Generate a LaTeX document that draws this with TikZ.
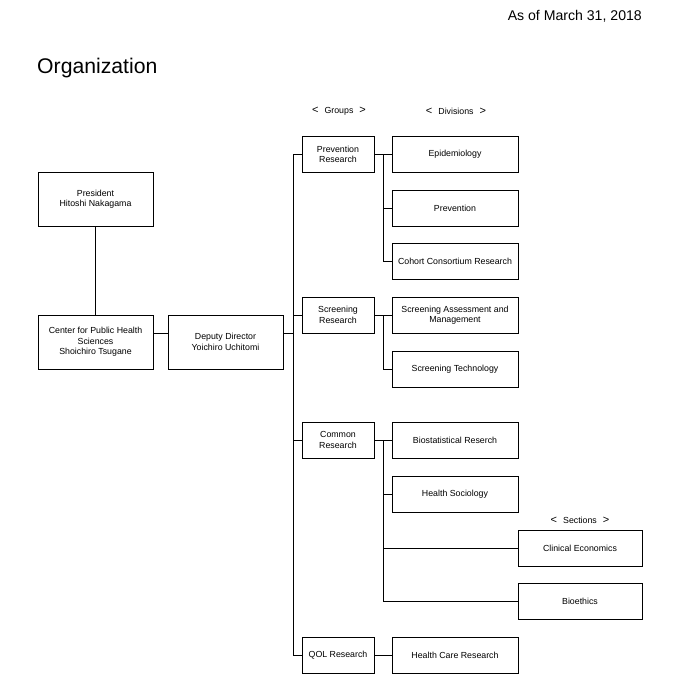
\documentclass[tikz,border=0pt]{standalone}
\usepackage{fontspec}
\setmainfont{Liberation Sans}
\newcommand{\lbr}{{\fontsize{11}{11}\selectfont<}}
\newcommand{\rbr}{{\fontsize{11}{11}\selectfont>}}
\begin{document}
\begin{tikzpicture}[x=1pt,y=-1pt,
  box/.style={draw,line width=1pt,inner sep=1pt,align=center,
    font=\fontsize{8.8}{10.5}\selectfont},
  top/.style={box,minimum width=115pt,minimum height=54pt},
  grp/.style={box,minimum width=72pt,minimum height=36pt},
  div/.style={box,minimum width=126pt,minimum height=36pt},
  sec/.style={box,minimum width=124pt,minimum height=36pt},
  lbl/.style={font=\fontsize{8.8}{10.5}\selectfont,inner sep=0pt},
  conn/.style={line width=1pt}]
\useasboundingbox (0,0) rectangle (680,696);
\fill[white] (0,0) rectangle (680,696);
% headings
\node[anchor=base east,inner sep=0pt,font=\fontsize{14.1}{16}\selectfont] (asof) at (642,20) {As of March 31, 2018};
\node[anchor=base west,inner sep=0pt,font=\fontsize{21.2}{24}\selectfont] (title) at (37,73) {Organization};
\node[lbl] (lgroups) at (339,111) {\lbr\hspace{6pt}Groups\hspace{6pt}\rbr};
\node[lbl] (ldivs) at (456,111) {\lbr\hspace{6pt}Divisions\hspace{6pt}\rbr};
\node[lbl] (lsecs) at (580,520) {\lbr\hspace{6pt}Sections\hspace{6pt}\rbr};
% top level
\node[top] (pres) at (95.5,199) {President\\Hitoshi Nakagama};
\node[top] (cphs) at (95.5,342) {Center for Public Health\\Sciences\\Shoichiro Tsugane};
\node[top] (dep) at (225.5,342) {Deputy Director\\Yoichiro Uchitomi};
% groups
\node[grp] (prev) at (338,154.5) {Prevention\\Research};
\node[grp] (scr) at (338,315) {Screening\\Research};
\node[grp] (com) at (338,440) {Common\\Research};
\node[grp] (qol) at (338,655) {QOL Research};
% divisions
\node[div] (epi) at (455,154.5) {Epidemiology};
\node[div] (prevd) at (455,208) {Prevention};
\node[div] (coh) at (455,261.5) {Cohort Consortium Research};
\node[div] (sam) at (455,315) {Screening Assessment and\\Management};
\node[div] (stech) at (455,369) {Screening Technology};
\node[div] (bio) at (455,440) {Biostatistical Reserch};
\node[div] (hsoc) at (455,494) {Health Sociology};
\node[div] (hcr) at (455,655) {Health Care Research};
% sections
\node[sec] (clin) at (580,548) {Clinical Economics};
\node[sec] (beth) at (580,601) {Bioethics};
% connectors top
\draw[conn] (pres.south) -- (cphs.north);
\coordinate (cr) at (153,333);
\coordinate (dl) at (168,333);
\coordinate (drr) at (283,333);
\draw[conn] (cr) -- (dl);
\coordinate (ttop) at (293,154.5);
\coordinate (tbot) at (293,655);
\draw[conn] (drr) -- (drr -| ttop);
\draw[conn] (prev.west) -- (ttop) -- (tbot) -- (qol.west);
\draw[conn] (scr.west) -- (scr.west -| ttop);
\draw[conn] (com.west) -- (com.west -| ttop);
% prevention sub
\coordinate (s1) at (383,154.5);
\draw[conn] (prev.east) -- (epi.west);
\draw[conn] (s1) |- (coh.west);
\draw[conn] (prevd.west) -- (prevd.west -| s1);
% screening sub
\coordinate (s2) at (383,315);
\draw[conn] (scr.east) -- (sam.west);
\draw[conn] (s2) |- (stech.west);
% common sub
\coordinate (s3) at (383,440);
\draw[conn] (com.east) -- (bio.west);
\draw[conn] (s3) |- (beth.west);
\draw[conn] (hsoc.west) -- (hsoc.west -| s3);
\draw[conn] (clin.west) -- (clin.west -| s3);
% qol
\draw[conn] (qol.east) -- (hcr.west);
\end{tikzpicture}
\end{document}
